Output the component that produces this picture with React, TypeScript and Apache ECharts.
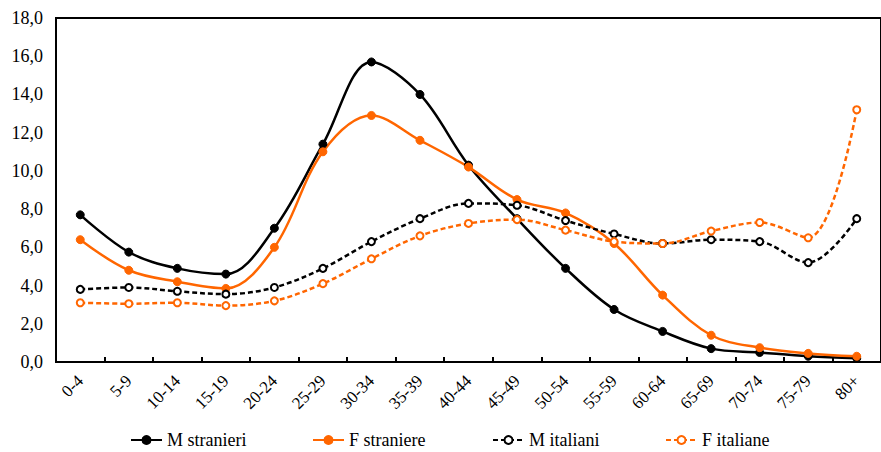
import React, { useEffect, useRef } from "react";
import * as echarts from "echarts";

const categories = ["0-4", "5-9", "10-14", "15-19", "20-24", "25-29", "30-34", "35-39", "40-44", "45-49", "50-54", "55-59", "60-64", "65-69", "70-74", "75-79", "80+"];
const mStranieri = [7.7, 5.75, 4.9, 4.6, 7.0, 11.4, 15.7, 14.0, 10.3, 7.5, 4.9, 2.75, 1.6, 0.7, 0.5, 0.3, 0.2];
const fStraniere = [6.4, 4.8, 4.2, 3.85, 6.0, 11.0, 12.9, 11.6, 10.2, 8.5, 7.8, 6.2, 3.5, 1.4, 0.75, 0.45, 0.3];
const mItaliani = [3.8, 3.9, 3.7, 3.55, 3.9, 4.9, 6.3, 7.5, 8.3, 8.2, 7.4, 6.7, 6.2, 6.4, 6.3, 5.2, 7.5];
const fItaliane = [3.1, 3.05, 3.1, 2.95, 3.2, 4.1, 5.4, 6.6, 7.25, 7.45, 6.9, 6.3, 6.2, 6.85, 7.3, 6.5, 13.2];
const seriesNames = ["M stranieri", "F straniere", "M italiani", "F italiane"];
const yTicks = { min: 0, max: 18, interval: 2 };

const BLACK = "#000000";
const ORANGE = "#FF6600";
const FONT = "Liberation Serif";

export default function App() {
  const ref = useRef<HTMLDivElement>(null);
  useEffect(() => {
    if (!ref.current) return;
    const chart = echarts.init(ref.current, undefined, { renderer: "svg" });
    const solid = (name: string, data: number[], color: string) => ({
      name,
      type: "line",
      data,
      smooth: 0.35,
      symbol: "circle",
      symbolSize: 8,
      showSymbol: true,
      lineStyle: { color, width: 2.5 },
      itemStyle: { color, borderColor: color, borderWidth: 1 },
    });
    const dashed = (name: string, data: number[], color: string) => ({
      name,
      type: "line",
      data,
      smooth: 0.35,
      symbol: "circle",
      symbolSize: 7,
      showSymbol: true,
      lineStyle: { color, width: 2.5, type: [5, 3] },
      itemStyle: { color: "#ffffff", borderColor: color, borderWidth: 2 },
    });
    const legendBase = {
      top: 431,
      padding: 0,
      itemWidth: 31,
      itemHeight: 10,
      textStyle: { fontFamily: FONT, fontSize: 18, color: "#000" },
    };
    chart.setOption({
      animation: false,
      backgroundColor: "#ffffff",
      textStyle: { fontFamily: FONT },
      grid: {
        left: 56,
        right: -6,
        top: 18,
        bottom: 90,
        show: true,
        borderColor: "#000",
        borderWidth: 2,
        containLabel: false,
      },
      legend: [
        { ...legendBase, left: 130, data: [seriesNames[0]] },
        { ...legendBase, left: 312, data: [seriesNames[1]] },
        { ...legendBase, left: 492, data: [seriesNames[2]] },
        { ...legendBase, left: 665, data: [seriesNames[3]] },
      ],
      xAxis: {
        type: "category",
        data: categories,
        boundaryGap: true,
        axisLine: { show: true, lineStyle: { color: "#000", width: 2 } },
        axisTick: { show: true, inside: true, length: 5, lineStyle: { color: "#000", width: 2 } },
        axisLabel: {
          rotate: 45,
          margin: 16,
          interval: 0,
          fontFamily: FONT,
          fontSize: 17,
          color: "#000",
        },
        splitLine: { show: false },
      },
      yAxis: {
        type: "value",
        min: yTicks.min,
        max: yTicks.max,
        interval: yTicks.interval,
        axisLine: { show: true, lineStyle: { color: "#000", width: 2 } },
        axisTick: { show: false },
        splitLine: { show: false },
        axisLabel: {
          margin: 13,
          fontFamily: FONT,
          fontSize: 18,
          color: "#000",
          formatter: (v: number) => v.toFixed(1).replace(".", ","),
        },
      },
      series: [
        solid(seriesNames[0], mStranieri, BLACK),
        solid(seriesNames[1], fStraniere, ORANGE),
        dashed(seriesNames[2], mItaliani, BLACK),
        dashed(seriesNames[3], fItaliane, ORANGE),
      ],
    });
    return () => chart.dispose();
  }, []);
  return (
    <div
      ref={ref}
      style={{ position: "absolute", left: 0, top: 0, width: 881, height: 452 }}
    />
  );
}
